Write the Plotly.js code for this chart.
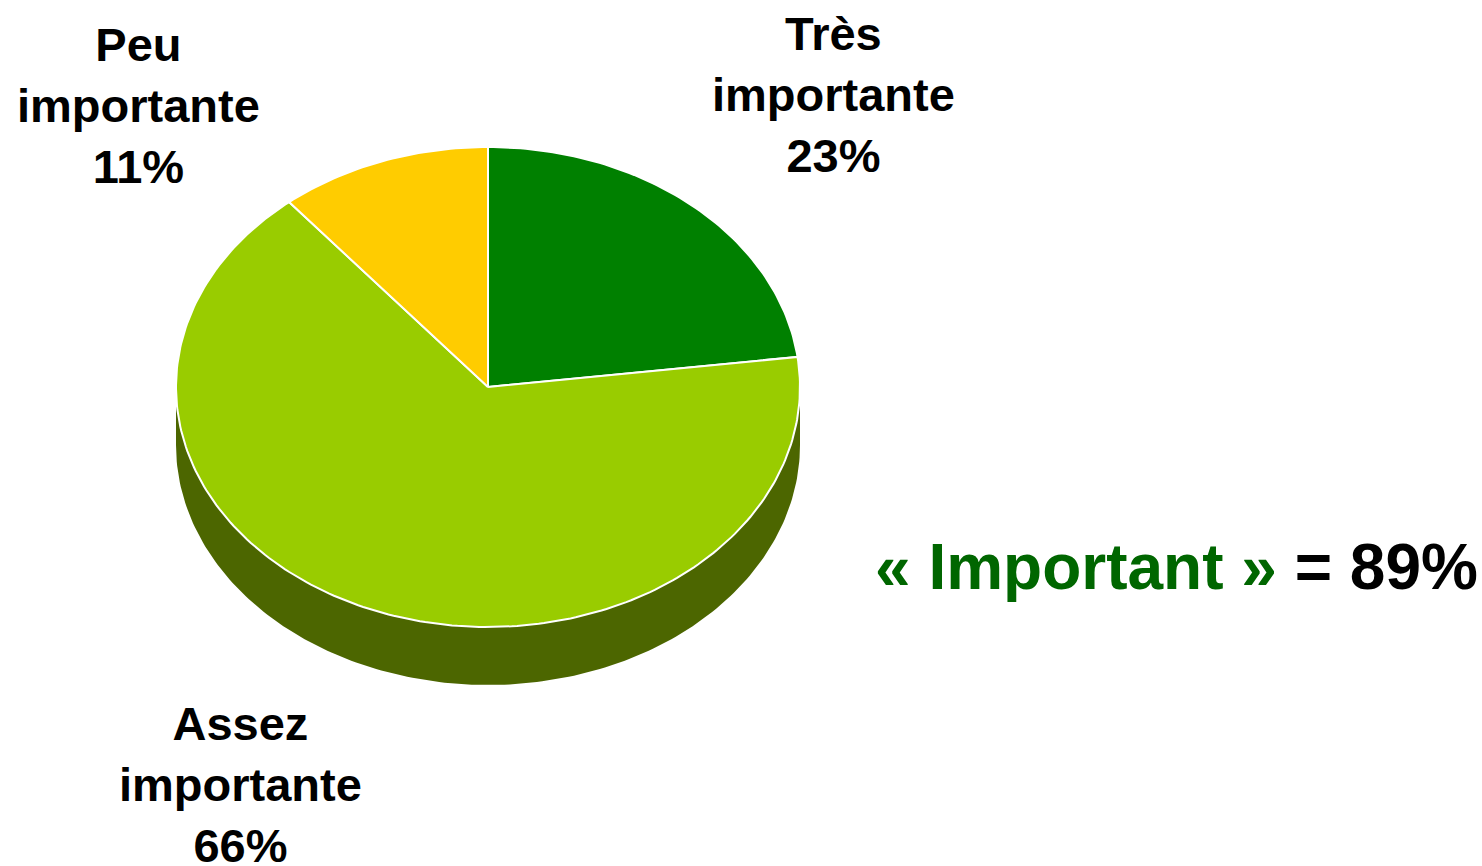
<!DOCTYPE html>
<html>
<head>
<meta charset="utf-8">
<script src="https://cdn.plot.ly/plotly-3.0.1.min.js"></script>
<style>html,body{margin:0;padding:0;background:#fff;}#chart{width:1482px;height:866px;}</style>
</head>
<body>
<div id="chart"></div>
<script>
// ---- data ----
const categories = ['Très importante', 'Assez importante', 'Peu importante'];
const labelLines = ['Très<br>importante', 'Assez<br>importante', 'Peu<br>importante'];
const values = [23, 66, 11];
const sliceColors = ['#008000', '#99CC00', '#FFCC00'];
const sideColor = '#4C6600';
const summaryLabel = '« Important »';
const summaryParts = [0, 1]; // Très + Assez

// ---- geometry (layout only) ----
const W = 1482, H = 866;
const cx = 488, cy = 387, rx = 312, ry = 240, depthPx = 58;
const depth = depthPx / ry;
const total = values.reduce((a, b) => a + b, 0);

function pt(deg) { const r = deg * Math.PI / 180; return [Math.sin(r), Math.cos(r)]; }

const traces = [];
// side of the 3D disc
{
  const xs = [], ys = [];
  for (let a = 90; a <= 270; a += 1) { const p = pt(a); xs.push(p[0]); ys.push(p[1]); }
  for (let a = 270; a >= 90; a -= 1) { const p = pt(a); xs.push(p[0]); ys.push(p[1] - depth); }
  traces.push({ type: 'scatter', mode: 'lines', x: xs, y: ys, fill: 'toself', fillcolor: sideColor,
    line: { width: 0, color: sideColor }, hoverinfo: 'skip', showlegend: false });
}
// top slices
let acc = 0;
values.forEach((v, i) => {
  const a0 = acc / total * 360, a1 = (acc + v) / total * 360;
  acc += v;
  const xs = [0], ys = [0];
  const n = Math.max(4, Math.ceil(a1 - a0));
  for (let k = 0; k <= n; k++) { const p = pt(a0 + (a1 - a0) * k / n); xs.push(p[0]); ys.push(p[1]); }
  xs.push(0); ys.push(0);
  traces.push({ type: 'scatter', mode: 'lines', x: xs, y: ys, fill: 'toself', fillcolor: sliceColors[i],
    line: { width: 2, color: '#ffffff' }, name: categories[i], hoverinfo: 'name', showlegend: false });
});

const font = { family: 'Liberation Sans, Arial, sans-serif', size: 47, color: '#000000' };
const labelPos = [[833, 95], [240, 784], [138, 105]];
const annotations = values.map((v, i) => ({
  xref: 'paper', yref: 'paper', x: labelPos[i][0] / W, y: 1 - labelPos[i][1] / H,
  xanchor: 'center', yanchor: 'middle', showarrow: false, align: 'center',
  text: '<b>' + labelLines[i] + '<br>' + v + '%</b>', font: font
}));
const summaryValue = summaryParts.reduce((s, i) => s + values[i], 0);
annotations.push({
  xref: 'paper', yref: 'paper', x: 1176 / W, y: 1 - 567 / H, xanchor: 'center', yanchor: 'middle',
  showarrow: false,
  text: '<b><span style="color:#006600">' + summaryLabel + '</span> = ' + summaryValue + '%</b>',
  font: { family: 'Liberation Sans, Arial, sans-serif', size: 64, color: '#000000' }
});

const layout = {
  width: W, height: H, margin: { l: 0, r: 0, t: 0, b: 0 },
  paper_bgcolor: '#ffffff', plot_bgcolor: '#ffffff',
  xaxis: { range: [-cx / rx, (W - cx) / rx], visible: false, fixedrange: true },
  yaxis: { range: [-(H - cy) / ry, cy / ry], visible: false, fixedrange: true },
  annotations: annotations, showlegend: false
};
Plotly.newPlot('chart', traces, layout, { displayModeBar: false, staticPlot: true });
</script>
</body>
</html>
